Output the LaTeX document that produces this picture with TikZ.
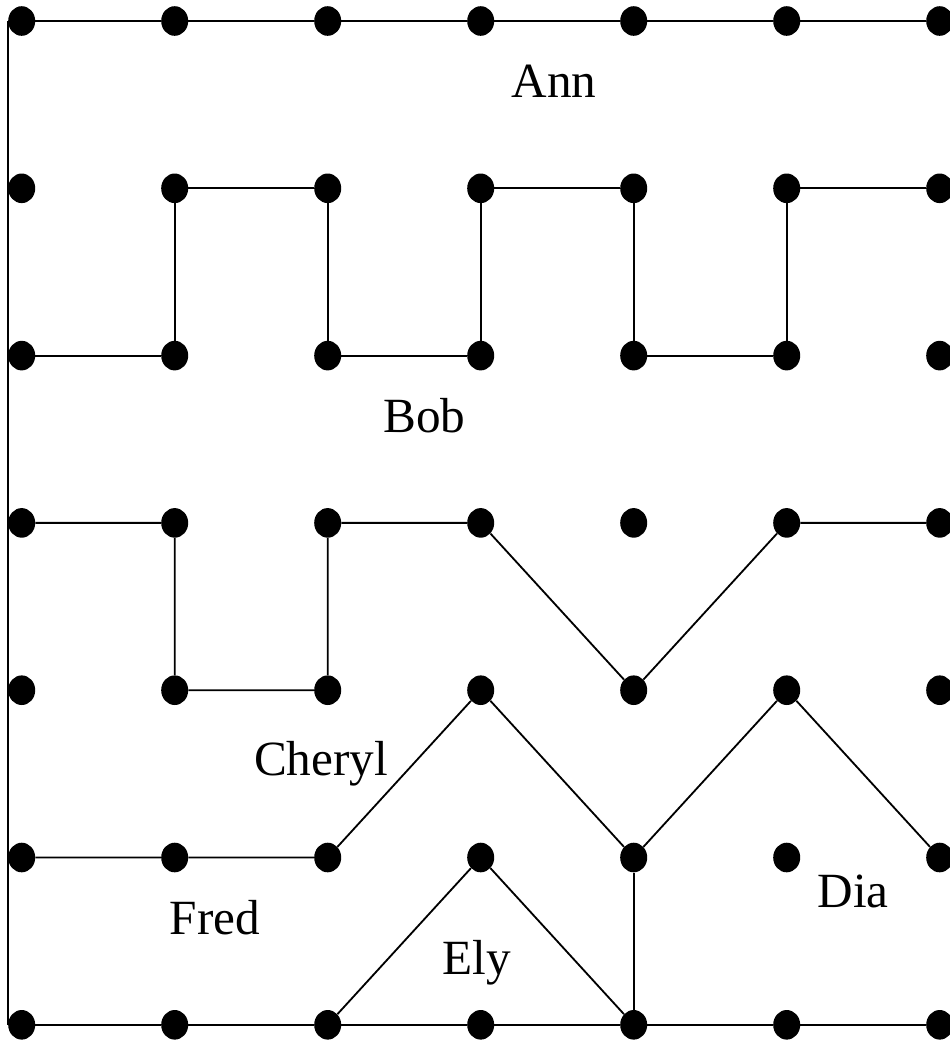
\documentclass[tikz,border=0pt]{standalone}
\usepackage{fontspec}
\setmainfont{Liberation Serif}
\usetikzlibrary{shapes.geometric}
\tikzset{
  dot/.style={ellipse,fill=black,inner sep=0pt,minimum width=0.675cm,minimum height=0.74cm},
  fence/.style={line width=1.3pt},
  owner/.style={anchor=base,inner sep=0pt,font=\fontsize{35}{42}\selectfont}
}
\begin{document}
\begin{tikzpicture}[x=0.025cm,y=-0.025cm]
\useasboundingbox (0,0) rectangle (949,1041);
% grid of posts
\foreach \i in {0,...,6}
  \foreach \j in {0,...,6}
    \node[dot] (d-\i-\j) at ({21.7+153*\i},{21+167.3*\j}) {};
% outer fence
\draw[fence] (d-0-0) -- (d-1-0) -- (d-2-0) -- (d-3-0) -- (d-4-0) -- (d-5-0) -- (d-6-0);
\draw[fence] (d-0-0.west) -- (d-0-6.west);
\draw[fence] (d-0-6) -- (d-1-6) -- (d-2-6) -- (d-3-6) -- (d-4-6) -- (d-5-6) -- (d-6-6);
% inner fences
\draw[fence] (d-0-2) -- (d-1-2) -- (d-1-1) -- (d-2-1) -- (d-2-2) -- (d-3-2) -- (d-3-1)
  -- (d-4-1) -- (d-4-2) -- (d-5-2) -- (d-5-1) -- (d-6-1);
\draw[fence] (d-0-3) -- (d-1-3) -- (d-1-4) -- (d-2-4) -- (d-2-3) -- (d-3-3) -- (d-4-4)
  -- (d-5-3) -- (d-6-3);
\draw[fence] (d-0-5) -- (d-1-5) -- (d-2-5) -- (d-3-4) -- (d-4-5) -- (d-5-4) -- (d-6-5);
\draw[fence] (d-2-6) -- (d-3-5) -- (d-4-6);
\draw[fence] (d-4-5) -- (d-4-6);
% names
\node[owner] (ann) at (554,97) {Ann};
\node[owner] (bob) at (424.5,432) {Bob};
\node[owner] (cheryl) at (321,775) {Cheryl};
\node[owner] (fred) at (215,934) {Fred};
\node[owner] (ely) at (477,974) {Ely};
\node[owner] (dia) at (853,907) {Dia};
\end{tikzpicture}
\end{document}
